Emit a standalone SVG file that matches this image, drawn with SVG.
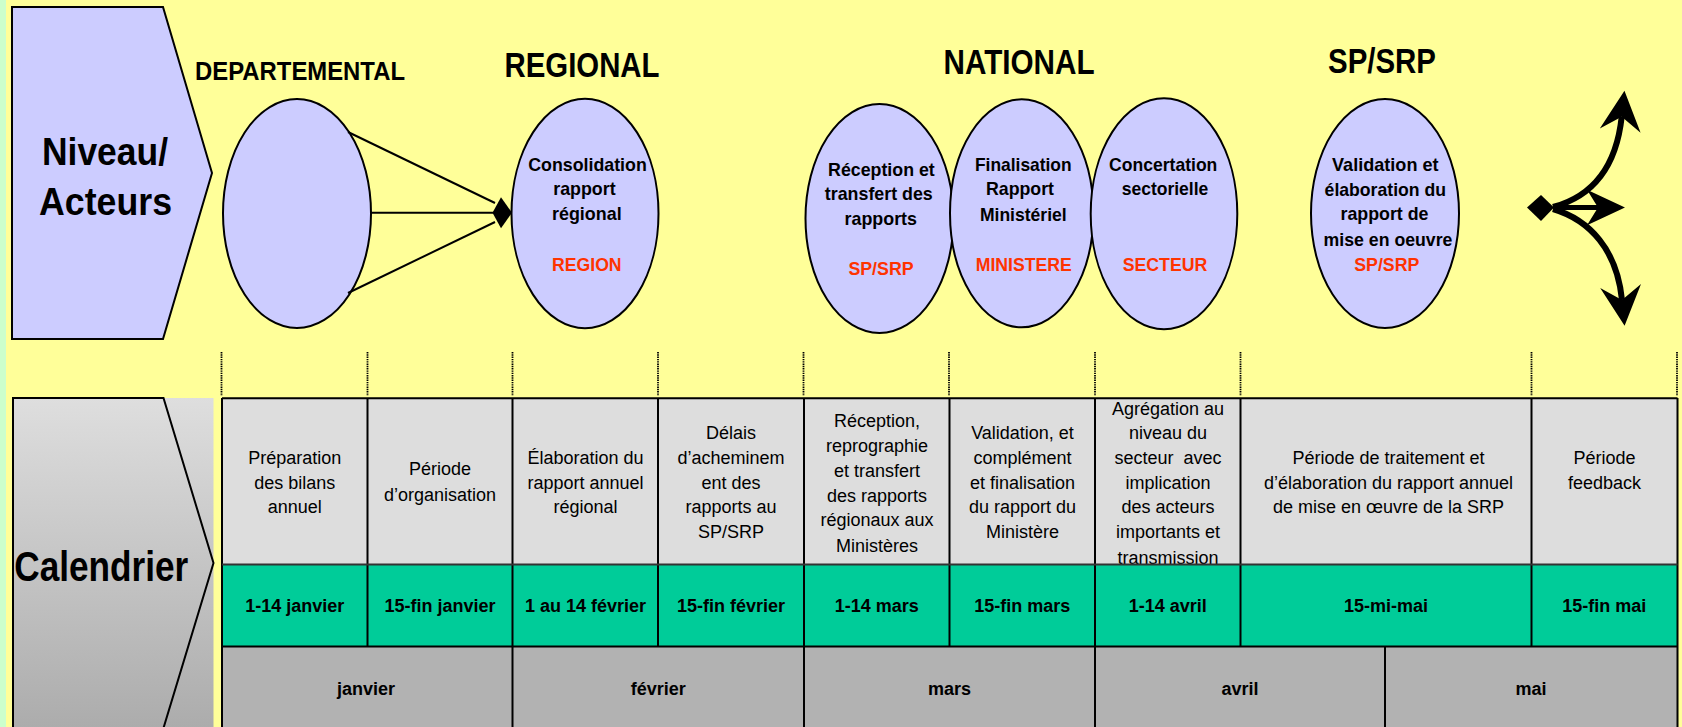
<svg xmlns="http://www.w3.org/2000/svg" width="1682" height="727" viewBox="0 0 1682 727">
<defs>
<style>
text{font-family:"Liberation Sans",Arial,Helvetica,sans-serif;fill:#000}
.b{font-weight:bold;text-anchor:middle}
.n{font-weight:normal;text-anchor:middle;font-size:18px}
.big{font-size:38px}
.ttl{font-size:35px}
.dep{font-size:25px}
.el{font-size:19px}
.red{fill:#ff3300}
.cell{font-size:18px}
.lav{fill:#ccccff;stroke:#000;stroke-width:2}
.grid{stroke:#000;stroke-width:2;fill:none}
.dot{stroke:#000;stroke-width:1.8;stroke-dasharray:1.4 0.9;fill:none}
.conn{stroke:#000;stroke-width:2;fill:none}
.thick{stroke:#000;stroke-width:6;fill:none}
</style>
<linearGradient id="grayGrad" x1="0" y1="0" x2="0" y2="1">
<stop offset="0" stop-color="#dedede"/>
<stop offset="1" stop-color="#acacac"/>
</linearGradient>
<marker id="diamondL" markerUnits="userSpaceOnUse" orient="0" refX="0" refY="0" markerWidth="40" markerHeight="40" viewBox="-20 -20 40 40" overflow="visible">
<path d="M-8.5,0 L0,-15.5 L11,0 L0,15.5 Z" fill="#000"/>
</marker>
<marker id="diamondR" markerUnits="userSpaceOnUse" orient="0" refX="0" refY="0" markerWidth="60" markerHeight="60" viewBox="-30 -30 60 60" overflow="visible">
<path d="M-26,0 L-12,-12.5 L1,0 L-12,13.5 Z" fill="#000"/>
</marker>
<marker id="arrowBig" markerUnits="userSpaceOnUse" orient="auto" refX="0" refY="0" markerWidth="60" markerHeight="60" viewBox="-30 -30 60 60" overflow="visible">
<path d="M26,0 L-14,-20.5 L0,0 L-14,20.5 Z" fill="#000"/>
</marker>
<marker id="arrowMid" markerUnits="userSpaceOnUse" orient="auto" refX="0" refY="0" markerWidth="60" markerHeight="60" viewBox="-30 -30 60 60" overflow="visible">
<path d="M27,0 L-11,-17.7 L0,0 L-11,17.7 Z" fill="#000"/>
</marker>
</defs>

<rect x="0" y="0" width="1682" height="727" fill="#ffff99"/>
<rect x="0" y="0" width="6" height="727" fill="#ccffcc"/>

<g id="niveau-acteurs">
<path d="M12,7 L163,7 L212,173 L163,339 L12,339 Z" class="lav"/>
<text class="b big" x="105" y="165" textLength="126" lengthAdjust="spacingAndGlyphs">Niveau/</text>
<text class="b big" x="105.5" y="215" textLength="133" lengthAdjust="spacingAndGlyphs">Acteurs</text>
</g>

<g id="departemental">
<text class="b dep" x="300" y="80" textLength="210" lengthAdjust="spacingAndGlyphs">DEPARTEMENTAL</text>
<ellipse cx="297" cy="213.5" rx="74" ry="114.5" class="lav"/>
</g>

<g id="regional">
<text class="b ttl" x="582" y="77" textLength="155" lengthAdjust="spacingAndGlyphs">REGIONAL</text>
<ellipse cx="585" cy="213.5" rx="73.5" ry="114.7" class="lav"/>
<text class="b el" x="587.5" y="171" textLength="118.6" lengthAdjust="spacingAndGlyphs">Consolidation</text>
<text class="b el" x="584.4" y="195" textLength="62.4" lengthAdjust="spacingAndGlyphs">rapport</text>
<text class="b el" x="586.8" y="220" textLength="69.6" lengthAdjust="spacingAndGlyphs">régional</text>
<text class="b el red" x="586.8" y="270.7" textLength="69.6" lengthAdjust="spacingAndGlyphs">REGION</text>
</g>

<g id="national-title">
<text class="b ttl" x="1019" y="74" textLength="151" lengthAdjust="spacingAndGlyphs">NATIONAL</text>
</g>

<g id="reception">
<ellipse cx="879.5" cy="218.5" rx="74" ry="114.5" class="lav"/>
<text class="b el" x="881.4" y="175.7" textLength="106.7" lengthAdjust="spacingAndGlyphs">Réception et</text>
<text class="b el" x="878.8" y="200" textLength="107.9" lengthAdjust="spacingAndGlyphs">transfert des</text>
<text class="b el" x="880.8" y="225.3" textLength="72.4" lengthAdjust="spacingAndGlyphs">rapports</text>
<text class="b el red" x="881" y="275" textLength="65.2" lengthAdjust="spacingAndGlyphs">SP/SRP</text>
</g>

<g id="finalisation">
<ellipse cx="1021.7" cy="213.3" rx="71.7" ry="114" class="lav"/>
<text class="b el" x="1023.3" y="171" textLength="96.7" lengthAdjust="spacingAndGlyphs">Finalisation</text>
<text class="b el" x="1020" y="195" textLength="68" lengthAdjust="spacingAndGlyphs">Rapport</text>
<text class="b el" x="1023.3" y="220.7" textLength="86.7" lengthAdjust="spacingAndGlyphs">Ministériel</text>
<text class="b el red" x="1023.7" y="271" textLength="96" lengthAdjust="spacingAndGlyphs">MINISTERE</text>
</g>

<g id="concertation">
<ellipse cx="1164" cy="213.8" rx="73.3" ry="115.5" class="lav"/>
<text class="b el" x="1163.2" y="171" textLength="108.3" lengthAdjust="spacingAndGlyphs">Concertation</text>
<text class="b el" x="1165" y="195.3" textLength="86.7" lengthAdjust="spacingAndGlyphs">sectorielle</text>
<text class="b el red" x="1165" y="271" textLength="84.7" lengthAdjust="spacingAndGlyphs">SECTEUR</text>
</g>

<g id="validation">
<text class="b ttl" x="1382" y="73" textLength="108" lengthAdjust="spacingAndGlyphs">SP/SRP</text>
<ellipse cx="1385" cy="213.5" rx="74" ry="114.5" class="lav"/>
<text class="b el" x="1385.3" y="171" textLength="106.5" lengthAdjust="spacingAndGlyphs">Validation et</text>
<text class="b el" x="1385.3" y="196" textLength="121.4" lengthAdjust="spacingAndGlyphs">élaboration du</text>
<text class="b el" x="1384.5" y="220" textLength="88" lengthAdjust="spacingAndGlyphs">rapport de</text>
<text class="b el" x="1388" y="245.7" textLength="128.8" lengthAdjust="spacingAndGlyphs">mise en oeuvre</text>
<text class="b el red" x="1386.8" y="270.7" textLength="65" lengthAdjust="spacingAndGlyphs">SP/SRP</text>
</g>

<g id="connectors">
<line x1="348" y1="132" x2="495" y2="203" class="conn"/>
<line x1="371" y1="212.7" x2="501" y2="212.7" class="conn" marker-end="url(#diamondL)"/>
<line x1="348" y1="293" x2="495" y2="222" class="conn"/>
<path d="M1553,207 C1590,197 1616,170 1621.7,116.7" class="thick" marker-end="url(#arrowBig)"/>
<path d="M1553,209 C1590,220 1617,250 1622,300" class="thick" marker-end="url(#arrowBig)"/>
<path d="M1553,207.5 L1598,207.5" stroke="#000" stroke-width="5" fill="none" marker-start="url(#diamondR)" marker-end="url(#arrowMid)"/>
</g>

<g id="guides">
<path class="dot" d="M221.5,352 V396 M367.5,352 V396 M512.5,352 V396 M658,352 V396 M803.5,352 V396 M949,352 V396 M1095,352 V396 M1240.5,352 V396 M1531.5,352 V396 M1677,352 V396"/>
</g>

<g id="calendrier">
<rect x="12" y="398" width="201.5" height="330" fill="url(#grayGrad)"/>
<path d="M163.5,728 L213.5,563 L163.5,398 L13,398 L13,728" stroke="#000" stroke-width="2" fill="none"/>
<text x="14.3" y="580.7" font-size="42" font-weight="bold" textLength="174" lengthAdjust="spacingAndGlyphs">Calendrier</text>
</g>

<g id="table">
<rect x="222" y="398" width="1455" height="166" fill="#dddddd"/>
<g id="activities">
<text class="n"><tspan x="294.8" y="464">Préparation</tspan><tspan x="294.8" y="488.5">des bilans</tspan><tspan x="294.8" y="513">annuel</tspan></text>
<text class="n"><tspan x="440" y="475">Période</tspan><tspan x="440" y="500.5">d’organisation</tspan></text>
<text class="n"><tspan x="585.5" y="464">Élaboration du</tspan><tspan x="585.5" y="488.5">rapport annuel</tspan><tspan x="585.5" y="513">régional</tspan></text>
<text class="n"><tspan x="731" y="439">Délais</tspan><tspan x="731" y="464">d’acheminem</tspan><tspan x="731" y="488.5">ent des</tspan><tspan x="731" y="513">rapports au</tspan><tspan x="731" y="538">SP/SRP</tspan></text>
<text class="n"><tspan x="877" y="427">Réception,</tspan><tspan x="877" y="451.5">reprographie</tspan><tspan x="877" y="476.5">et transfert</tspan><tspan x="877" y="501.5">des rapports</tspan><tspan x="877" y="526">régionaux aux</tspan><tspan x="877" y="551.5">Ministères</tspan></text>
<text class="n"><tspan x="1022.5" y="439">Validation, et</tspan><tspan x="1022.5" y="464">complément</tspan><tspan x="1022.5" y="488.5">et finalisation</tspan><tspan x="1022.5" y="513">du rapport du</tspan><tspan x="1022.5" y="538">Ministère</tspan></text>
<text class="n"><tspan x="1168" y="415">Agrégation au</tspan><tspan x="1168" y="439">niveau du</tspan><tspan x="1168" y="464">secteur&#160; avec</tspan><tspan x="1168" y="488.5">implication</tspan><tspan x="1168" y="513">des acteurs</tspan><tspan x="1168" y="538">importants et</tspan><tspan x="1168" y="563.5">transmission</tspan></text>
<text class="n"><tspan x="1388.5" y="464">Période de traitement et</tspan><tspan x="1388.5" y="488.5">d’élaboration du rapport annuel</tspan><tspan x="1388.5" y="513">de mise en œuvre de la SRP</tspan></text>
<text class="n"><tspan x="1604.5" y="464">Période</tspan><tspan x="1604.5" y="488.5">feedback</tspan></text>
</g>
<rect x="222" y="564.5" width="1455" height="82" fill="#00cc99"/>
<rect x="222" y="646.5" width="1455" height="82" fill="#b2b2b2"/>
<path class="grid" d="M222,398.3 H1677.5 M222,646.5 H1677.5 M222,398 V728 M1677.5,398 V728 M367.5,398 V646.5 M658,398 V646.5 M949.5,398 V646.5 M1095,398 V646.5 M1240.5,398 V646.5 M1531.5,398 V646.5 M512.5,398 V728 M804,398 V728 M1095,646.5 V728 M1385,646.5 V728"/>
<path d="M222,564.5 H1677.5" stroke="#333" stroke-width="2"/>
<g id="dates">
<text class="b cell" x="294.8" y="611.7">1-14 janvier</text>
<text class="b cell" x="440" y="611.7">15-fin janvier</text>
<text class="b cell" x="585.5" y="611.7">1 au 14 février</text>
<text class="b cell" x="731" y="611.7">15-fin février</text>
<text class="b cell" x="876.8" y="611.7">1-14 mars</text>
<text class="b cell" x="1022.3" y="611.7">15-fin mars</text>
<text class="b cell" x="1167.8" y="611.7">1-14 avril</text>
<text class="b cell" x="1386" y="611.7">15-mi-mai</text>
<text class="b cell" x="1604.3" y="611.7">15-fin mai</text>
</g>
<g id="months">
<text class="b cell" x="366" y="695">janvier</text>
<text class="b cell" x="658.3" y="695">février</text>
<text class="b cell" x="949.5" y="695">mars</text>
<text class="b cell" x="1240" y="695">avril</text>
<text class="b cell" x="1531" y="695">mai</text>
</g>
</g>
</svg>
